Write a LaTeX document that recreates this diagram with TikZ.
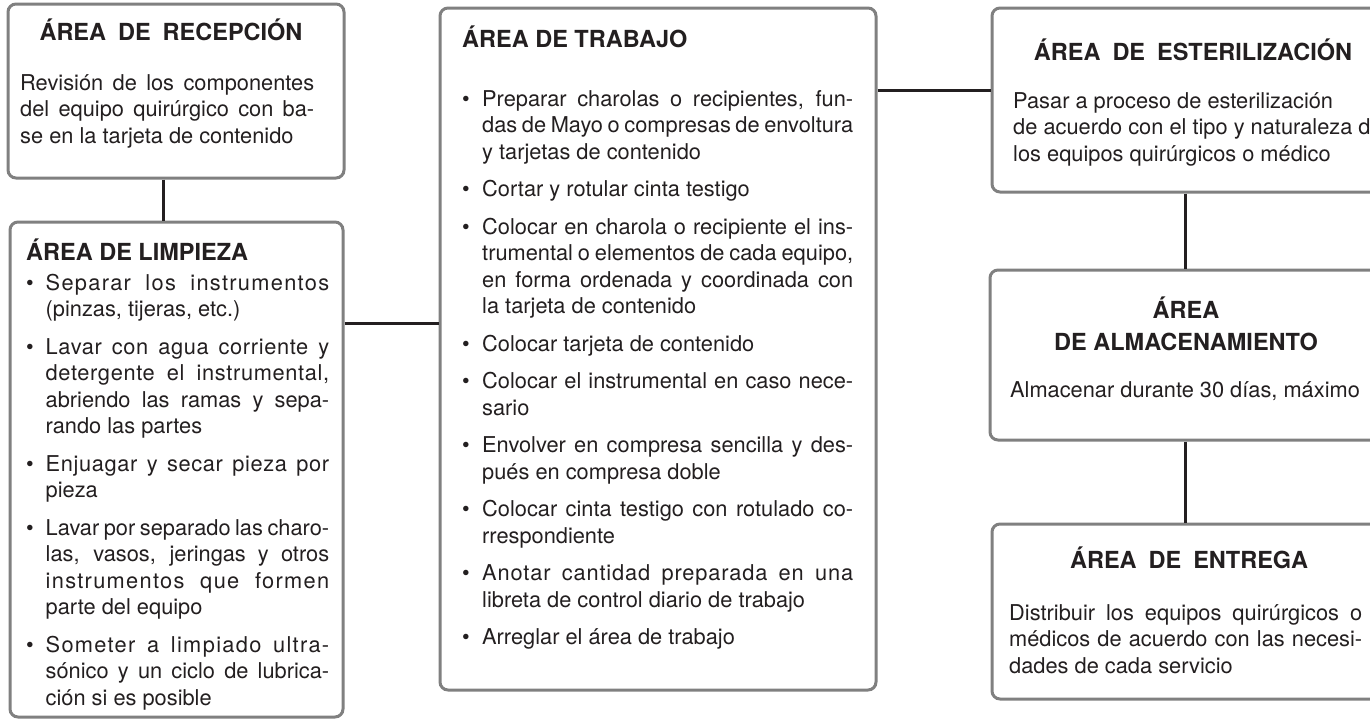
\documentclass[tikz,border=0pt]{standalone}
\usepackage{fontspec}
\setmainfont{TeX Gyre Heros}
\definecolor{ink}{HTML}{231F20}
\definecolor{frame}{HTML}{808080}
\newlength\bind
\newcommand\FL[1]{\par\hbox to\hsize{#1}}
\newcommand\LL[1]{\par\hbox{#1}}
\newcommand\CC[1]{\par\hbox to\hsize{\hss#1\hss}}
\newcommand\BF[1]{\par\hbox to\hsize{\hbox to\bind{\textbullet\hss}#1}}
\newcommand\BL[1]{\par\hbox{\hbox to\bind{\textbullet\hss}#1}}
\newcommand\CF[1]{\par\hbox to\hsize{\hskip\bind\relax #1}}
\newcommand\CL[1]{\par\hbox{\hskip\bind\relax #1}}
\newcommand\GAP{\par\vskip11pt\relax}
\newcommand\LSP[2]{{\addfontfeature{LetterSpace=#1}#2}}
\newcommand\bodyfont{\fontsize{21.8pt}{26.5pt}\selectfont}
\newcommand\ttlfont{\fontsize{23.5pt}{32pt}\selectfont\bfseries}
\newcommand\ws{\hspace{12pt}}
\newcommand\bodyblock[2]{\vtop{\hsize=#1\relax\bodyfont
  \baselineskip=26.5pt\lineskiplimit=0pt\lineskip=1pt\parindent=0pt\relax #2}}
\begin{document}
\begin{tikzpicture}[x=1pt,y=-1pt,
  box/.style={draw=frame, line width=3pt, rounded corners=8pt, inner sep=0pt, fill=white},
  link/.style={draw=ink, line width=3pt},
  ttl/.style={font=\ttlfont, text=ink, inner sep=0pt, anchor=base},
  txt/.style={font=\bodyfont, text=ink, inner sep=0pt, anchor=base west}]
\useasboundingbox (0,0) rectangle (1370,720);
\clip (0,0) rectangle (1370,720);
% boxes
\node[box, minimum width=336pt, minimum height=174pt] (rec) at (176,91) {};
\node[box, minimum width=333pt, minimum height=495pt] (lim) at (176.5,469.5) {};
\node[box, minimum width=436pt, minimum height=682pt] (tra) at (658,349) {};
\node[box, minimum width=402pt, minimum height=184pt] (est) at (1193,100) {};
\node[box, minimum width=400pt, minimum height=170pt] (alm) at (1190,355) {};
\node[box, minimum width=402pt, minimum height=175pt] (ent) at (1193,611.5) {};
% connectors
\coordinate (c0) at ([xshift=-13pt]rec.south);
\draw[link] (c0) -- (c0 |- lim.north);
\coordinate (c1) at ([yshift=146.5pt]lim.east);
\draw[link] (c1) -- (c1 -| tra.west);
\coordinate (c2) at ([yshift=259pt]tra.east);
\draw[link] (c2) -- (c2 -| est.west);
\coordinate (c3) at ([xshift=-8pt]est.south);
\draw[link] (c3) -- (c3 |- alm.north);
\coordinate (c4) at ([xshift=-5pt]alm.south);
\draw[link] (c4) -- (c4 |- ent.north);
% Recepcion
\node[ttl] (rect) at (171,40) {ÁREA\ws DE\ws RECEPCIÓN};
\node[txt] (recb) at (20,90) {\bodyblock{294pt}{%
  \FL{Revisión de los componentes}
  \FL{del equipo quirúrgico con ba-}
  \LL{se en la tarjeta de contenido}}};
% Limpieza
\node[ttl, anchor=base west] (limt) at (26,260) {ÁREA DE LIMPIEZA};
\node[txt] (limb) at (26,290) {\bodyblock{303pt}{\setlength\bind{19.5pt}%
  \BF{\LSP{6}{Separar los instrumentos}}
  \CL{(pinzas, tijeras, etc.)}
  \GAP
  \BF{\LSP{3}{Lavar con agua corriente y}}
  \CF{\LSP{3}{detergente el instrumental,}}
  \CF{abriendo las ramas y sepa-}
  \CL{rando las partes}
  \GAP
  \BF{\LSP{3}{Enjuagar y secar pieza por}}
  \CL{pieza}
  \GAP
  \BF{Lavar por separado las charo-}
  \CF{las, vasos, jeringas y otros}
  \CF{\LSP{6}{instrumentos que formen}}
  \CL{parte del equipo}
  \GAP
  \BF{\LSP{6}{Someter a limpiado ultra-}}
  \CF{sónico y un ciclo de lubrica-}
  \CL{ción si es posible}}};
% Trabajo
\node[ttl, anchor=base west] (trat) at (462,47) {ÁREA DE TRABAJO};
\node[txt] (trab) at (462,106) {\bodyblock{391pt}{\setlength\bind{20pt}%
  \BF{Preparar charolas o recipientes, fun-}
  \CF{das de Mayo o compresas de envoltura}
  \CL{y tarjetas de contenido}
  \GAP
  \BL{Cortar y rotular cinta testigo}
  \GAP
  \BF{Colocar en charola o recipiente el ins-}
  \CF{trumental o elementos de cada equipo,}
  \CF{en forma ordenada y coordinada con}
  \CL{la tarjeta de contenido}
  \GAP
  \BL{Colocar tarjeta de contenido}
  \GAP
  \BF{Colocar el instrumental en caso nece-}
  \CL{sario}
  \GAP
  \BF{Envolver en compresa sencilla y des-}
  \CL{pués en compresa doble}
  \GAP
  \BF{Colocar cinta testigo con rotulado co-}
  \CL{rrespondiente}
  \GAP
  \BF{\LSP{4}{Anotar cantidad preparada en una}}
  \CL{libreta de control diario de trabajo}
  \GAP
  \BL{Arreglar el área de trabajo}}};
% Esterilizacion
\node[ttl] (estt) at (1193,60) {ÁREA\ws DE\ws ESTERILIZACIÓN};
\node[txt] (estb) at (1013,108) {\bodyblock{400pt}{%
  \LL{Pasar a proceso de esterilización}
  \LL{de acuerdo con el tipo y naturaleza de}
  \LL{los equipos quirúrgicos o médico}}};
% Almacenamiento
\node[ttl] (almt) at (1186,318) {\vtop{\hsize=380pt\ttlfont
  \baselineskip=32pt\lineskiplimit=0pt\lineskip=1pt\parindent=0pt\relax
  \CC{ÁREA}
  \CC{DE ALMACENAMIENTO}}};
\node[txt, anchor=base] (almb) at (1185,397) {Almacenar durante 30 días, máximo};
% Entrega
\node[ttl] (entt) at (1189,568) {ÁREA\ws DE\ws ENTREGA};
\node[txt] (entb) at (1009,620) {\bodyblock{353pt}{%
  \FL{Distribuir los equipos quirúrgicos o}
  \FL{médicos de acuerdo con las necesi-}
  \LL{dades de cada servicio}}};
\end{tikzpicture}
\end{document}
